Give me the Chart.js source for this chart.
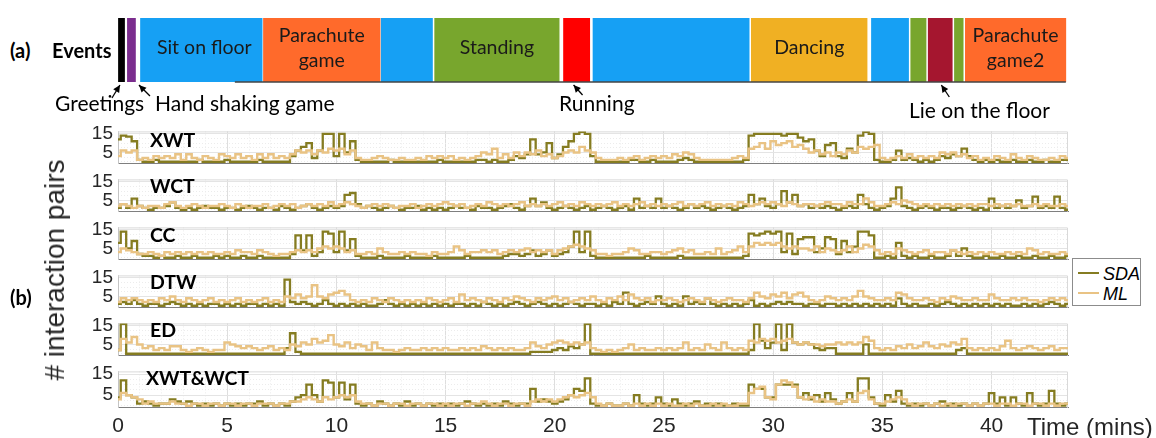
<!DOCTYPE html>
<html>
<head>
<meta charset="utf-8">
<script src="https://cdn.jsdelivr.net/npm/chart.js@4.4.1/dist/chart.umd.min.js"></script>
<style>
  body { margin: 0; width: 1156px; height: 438px; background: #fff; position: relative; overflow: hidden;
         font-family: 'Liberation Sans', Arial, sans-serif; }
  canvas { position: absolute; }
  .t { position: absolute; white-space: nowrap; color: #000; line-height: 1; }
  .cal { font-family: Lato, 'Open Sans', sans-serif; }
  .b { font-weight: bold; }
  .pl { position: absolute; font-family: Lato, sans-serif; font-weight: bold; font-size: 19.5px; line-height: 1; }
  #legend { position: absolute; left: 1072px; top: 258px; width: 67px; height: 46px; border: 1px solid #8c8c8c; background: #fff; }
  #legend .ln { position: absolute; left: 5px; width: 21px; height: 0; }
  #legend .lt { position: absolute; left: 30px; font-style: italic; font-size: 18px; line-height: 1; color: #000; }
</style>
</head>
<body>

<canvas id="events" width="1005" height="120" style="left:68px;top:0px"></canvas>
<canvas id="p0" width="1005" height="65" style="left:68px;top:115px"></canvas>
<canvas id="p1" width="1005" height="65" style="left:68px;top:163px"></canvas>
<canvas id="p2" width="1005" height="65" style="left:68px;top:211px"></canvas>
<canvas id="p3" width="1005" height="65" style="left:68px;top:259px"></canvas>
<canvas id="p4" width="1005" height="65" style="left:68px;top:307px"></canvas>
<canvas id="p5" width="1005" height="92" style="left:68px;top:355px"></canvas>

<div class="t cal b" style="left:10px;top:40px;font-size:20px">(a)</div>
<div class="t cal b" style="left:52px;top:40px;font-size:20px">Events</div>
<div class="t cal" style="left:55px;top:92px;font-size:21px">Greetings</div>
<div class="t cal" style="left:155px;top:92px;font-size:21px">Hand shaking game</div>
<div class="t cal" style="left:559px;top:92px;font-size:21px">Running</div>
<div class="t cal" style="left:909px;top:99px;font-size:21px">Lie on the floor</div>
<div class="t cal b" style="left:10px;top:287px;font-size:20px">(b)</div>

<div class="pl" style="left:150px;top:130px">XWT</div>
<div class="pl" style="left:150px;top:176px">WCT</div>
<div class="pl" style="left:150px;top:225px">CC</div>
<div class="pl" style="left:150px;top:272px">DTW</div>
<div class="pl" style="left:150px;top:320px">ED</div>
<div class="pl" style="left:146px;top:368px">XWT&amp;WCT</div>

<div class="t" style="left:55px;top:270px;font-size:28px;color:#262626;transform:translate(-50%,-50%) rotate(-90deg)"># interaction pairs</div>
<div class="t" style="left:1027px;top:415px;font-size:24px;color:#262626">Time (mins)</div>

<div id="legend">
  <div class="ln" style="top:13px;border-top:2.5px solid #857c21"></div>
  <div class="lt" style="top:6px">SDA</div>
  <div class="ln" style="top:33px;border-top:2.5px solid #e9c384"></div>
  <div class="lt" style="top:26px">ML</div>
</div>

<script>
// ── Colours ───────────────────────────────────
const SDA_COLOR = '#857c21';
const ML_COLOR  = '#e9c384';

// ── Axis setup ────────────────────────────────
const xMax        = 43.5;
const xTicks      = [0, 5, 10, 15, 20, 25, 30, 35, 40];
const yTicks      = [5, 15];
const xMinorTicks = Array.from({ length: 44 }, (_, i) => i);
const yMinorTicks = [0, 2.5, 5, 7.5, 10, 12.5, 15];

// sampling grid of the traces, one reading every quarter minute
const timeMins = Array.from({ length: 175 }, (_, i) => i * 0.25);

// ── Events (minutes) ──────────────────────────
const eventStart = [0.02, 0.43, 1.03, 6.66, 12.05, 14.5, 20.4, 21.75, 29.0, 34.5, 36.3, 37.1, 38.3, 38.8];
const eventEnd   = [0.30, 0.80, 6.60, 12.0, 14.40, 20.2, 21.6, 28.90, 34.3, 36.2, 37.0, 38.2, 38.7, 43.4];
const eventColor = ['#000000', '#7b2d8e', '#16a0f4', '#ff6a2b', '#16a0f4', '#78a62d', '#ff0000',
                    '#16a0f4', '#f0b023', '#16a0f4', '#78a62d', '#a5162f', '#78a62d', '#ff6a2b'];
const eventText  = ['', '', 'Sit on floor', 'Parachute\ngame', '', 'Standing', '',
                    '', 'Dancing', '', '', '', '', 'Parachute\ngame2'];
const arrowTips  = [0.09, 0.96, 20.86, 37.7];

// ── XWT ───────────────────────────────────────
const xwtSDA = [
  12,14,13.5,11, 1,0,0,1, 0,0,0,0, 0,0,0,1, 0,0,0,0,
  1,0,0,0, 0,0,1,0, 0,0,0,0, 3,6,8,10, 2,6,15,15,
  3,15,5,11, 1,0,0,0, 0,0,1,0, 0,0,0,0, 0,0,0,1,
  0,0,0,0, 0,0,1,1, 0,1,0,0, 1,3,2,4, 12,4,5,10,
  2,4,8,11, 15,16,15,3, 0,0,0,0, 0,0,1,1, 0,0,1,0,
  0,0,0,1, 2,1,0,0, 0,0,0,0, 0,0,0,1, 14,15,15,15,
  15,15,14,15, 15,13,11,12, 6,3,9,10, 3,2,7,5, 14,16,15,1,
  0,0,1,6, 1,2,1,0, 1,0,1,3, 2,4,3,7, 3,1,0,1,
  0,1,0,0, 1,0,0,1, 0,0,1,0, 0,1,1
];
const xwtML = [
  3,6,5,6, 1,2,1,3, 2,3,2,4, 1,4,2,1, 3,2,1,4,
  3,2,4,2, 3,1,4,2, 4,2,3,2, 4,6,5,6, 4,6,5,7,
  6,7,4,6, 2,1,1,2, 3,2,1,1, 2,1,1,2, 1,3,2,3,
  2,3,1,2, 1,2,3,5, 4,7,2,4, 2,5,3,5, 4,6,3,4,
  2,3,5,6, 5,8,6,5, 2,1,1,1, 2,1,2,3, 1,2,3,2,
  3,2,4,3, 5,4,2,1, 1,1,1,1, 1,2,3,2, 7,8,10,7,
  11,9,10,11, 8,9,7,5, 6,4,5,3, 5,4,6,5, 8,7,8,9,
  2,1,2,3, 2,4,2,3, 2,3,2,5, 4,5,3,4, 2,3,1,2,
  1,3,2,1, 4,2,1,3, 2,1,1,2, 1,3,2
];

// ── WCT ───────────────────────────────────────
const wctSDA = [
  1,3,1,6, 2,1,0,1, 1,2,4,1, 0,1,0,1, 2,1,1,0,
  1,1,0,1, 2,1,0,1, 1,0,2,1, 0,1,2,3, 1,0,1,2,
  1,2,8,9, 3,1,2,1, 0,1,2,1, 0,1,1,2, 0,1,0,1,
  0,1,2,1, 1,0,2,1, 1,0,1,2, 3,1,0,2, 6,2,4,1,
  0,1,2,1, 0,1,2,0, 1,2,1,0, 1,2,0,6, 1,2,1,6,
  1,2,1,0, 1,3,1,2, 1,0,1,2, 1,0,1,2, 8,3,6,2,
  1,3,10,4, 8,2,3,1, 2,1,2,1, 0,1,2,1, 8,3,1,0,
  1,2,6,12, 2,1,0,1, 2,1,0,1, 1,0,1,2, 1,0,1,0,
  6,1,2,1, 2,5,1,2, 7,1,2,1, 7,1,0
];
const wctML = [
  2,3,2,1, 2,1,2,2, 1,3,4,2, 1,2,3,2, 1,2,2,3,
  2,1,3,2, 1,2,2,3, 1,2,3,2, 3,1,2,3, 2,3,2,4,
  2,3,4,3, 2,1,2,3, 2,3,2,1, 2,2,3,1, 2,3,2,3,
  4,3,2,3, 1,2,3,2, 4,3,2,3, 2,3,4,2, 3,2,3,2,
  3,4,2,3, 2,4,3,2, 3,2,3,4, 2,3,2,3, 4,2,3,2,
  3,2,3,4, 2,3,2,3, 4,2,3,2, 3,2,4,3, 2,3,4,3,
  4,3,2,4, 3,2,3,3, 2,3,4,3, 3,2,4,3, 3,6,4,2,
  2,3,4,3, 5,4,3,2, 3,2,3,2, 3,2,3,2, 3,2,3,3,
  2,3,2,3, 2,3,2,2, 3,2,3,2, 2,3,2
];

// ── CC ────────────────────────────────────────
const ccSDA = [
  8,14,5,9, 2,1,1,0, 1,0,0,1, 0,0,1,0, 0,0,1,0,
  1,0,0,1, 0,0,1,0, 0,0,0,0, 2,12,4,12, 1,3,14,13,
  3,14,4,10, 1,0,0,0, 1,0,0,0, 0,1,0,0, 0,0,1,0,
  0,0,0,0, 1,0,0,0, 0,0,0,1, 2,2,1,2, 4,1,2,4,
  1,2,3,6, 14,3,14,1, 0,0,0,0, 0,0,0,0, 0,1,0,0,
  0,0,0,1, 0,0,0,0, 0,0,0,0, 0,0,0,1, 13,12,13,14,
  13,14,3,13, 2,10,11,11, 3,5,11,10, 2,9,3,6, 14,14,12,0,
  0,1,0,8, 1,0,1,0, 0,1,0,0, 1,4,1,5, 1,0,0,1,
  0,0,1,0, 0,1,0,0, 1,0,0,1, 0,0,1
];
const ccML = [
  3,5,4,3, 2,2,3,2, 1,3,2,3, 2,3,2,3, 2,3,2,2,
  3,2,4,3, 3,2,4,3, 2,1,2,2, 3,4,3,4, 3,5,6,5,
  6,5,3,4, 2,2,3,2, 5,3,2,2, 3,2,3,2, 2,1,3,2,
  2,3,6,4, 2,3,3,4, 3,4,2,3, 4,3,4,5, 3,4,3,4,
  2,4,5,6, 7,6,5,4, 2,2,1,2, 2,3,5,4, 2,2,3,3,
  2,3,4,5, 3,4,2,2, 3,2,5,2, 3,4,6,3, 6,8,7,8,
  7,8,6,5, 6,5,5,4, 6,3,5,4, 3,4,6,3, 5,7,6,4,
  2,3,2,5, 4,3,2,3, 4,2,3,3, 2,4,3,2, 3,2,3,2,
  3,2,2,3, 2,3,2,5, 4,2,3,2, 2,3,2
];

// ── DTW ───────────────────────────────────────
const dtwSDA = [
  1,2,1,3, 1,0,1,1, 0,1,2,1, 0,1,0,1, 0,1,1,0,
  1,0,1,0, 1,1,0,1, 0,1,0,14, 2,1,2,1, 0,1,3,1,
  0,1,0,1, 0,1,0,0, 1,3,1,0, 1,0,1,0, 1,0,1,0,
  1,0,1,1, 0,1,0,2, 1,0,1,0, 1,2,1,0, 1,2,1,0,
  1,0,1,2, 1,0,1,1, 0,1,0,2, 1,7,1,0, 1,2,1,5,
  1,0,1,0, 5,1,2,1, 4,1,0,1, 0,1,0,1, 3,0,1,0,
  1,2,1,2, 1,1,0,1, 1,0,1,1, 0,1,0,1, 0,1,0,1,
  0,1,0,4, 1,0,1,0, 0,1,0,1, 2,1,0,1, 0,1,0,1,
  0,1,0,1, 0,0,1,0, 1,0,1,2, 1,0,1
];
const dtwML = [
  2,4,3,4, 3,2,3,2, 4,3,5,3, 2,4,3,2, 3,4,2,3,
  2,3,4,2, 3,2,3,4, 2,3,2,5, 4,6,4,5, 11,5,4,6,
  7,8,6,3, 2,3,2,4, 3,2,4,3, 2,3,2,3, 2,4,3,2,
  3,4,2,6, 3,4,3,2, 4,3,2,4, 3,5,4,3, 2,4,3,4,
  5,3,4,2, 3,4,3,5, 3,2,4,3, 5,3,6,4, 3,4,2,3,
  3,4,3,2, 3,4,3,2, 4,3,2,3, 4,3,3,2, 4,7,5,4,
  6,5,7,4, 6,7,5,3, 2,3,5,4, 3,4,3,5, 8,5,4,3,
  3,4,3,7, 6,4,3,3, 4,3,2,4, 3,5,4,3, 3,4,3,3,
  6,4,3,3, 4,3,4,3, 3,2,3,4, 3,4,3
];

// ── ED ────────────────────────────────────────
const edSDA = [
  2,16,0,0, 0,0,0,0, 0,0,0,0, 0,0,0,0, 0,0,0,0,
  0,0,0,0, 0,0,0,0, 0,0,0,3, 11,1,0,0, 0,0,0,0,
  0,0,0,0, 0,0,0,0, 0,0,0,0, 0,0,0,0, 0,0,0,0,
  0,0,0,0, 0,0,0,0, 0,0,0,0, 0,0,0,0, 1,1,1,1,
  2,3,2,4, 3,5,16,0, 0,0,0,0, 0,0,0,0, 0,0,0,0,
  0,0,0,0, 0,0,0,0, 0,0,0,0, 0,0,0,0, 2,16,7,3,
  6,16,2,16, 6,5,6,5, 3,2,3,3, 0,0,0,0, 0,5,0,0,
  0,0,0,0, 0,0,0,0, 0,0,0,0, 0,0,2,3, 0,0,0,0,
  0,0,0,0, 0,0,0,0, 0,0,0,0, 0,0,0
];
const edML = [
  2,8,6,9, 5,3,4,2, 3,2,4,4, 2,1,2,3, 2,1,2,2,
  6,5,4,3, 4,3,2,3, 4,2,3,2, 5,4,6,5, 8,6,7,10,
  5,4,6,3, 5,4,2,6, 3,2,2,1, 2,3,2,2, 3,2,3,2,
  3,2,2,3, 2,3,2,4, 3,2,3,2, 3,2,2,3, 6,4,3,5,
  6,7,6,5, 6,5,6,3, 2,1,2,1, 2,3,5,2, 3,2,2,3,
  2,3,2,3, 6,2,3,2, 5,3,2,6, 3,2,3,2, 7,6,8,7,
  8,6,7,8, 6,5,6,5, 5,4,5,5, 6,5,6,5, 6,9,7,3,
  2,3,2,4, 3,5,3,4, 6,4,3,5, 4,6,5,8, 3,2,3,2,
  3,2,4,7, 3,2,3,4, 3,2,3,4, 2,3,3
];

// ── XWT&WCT ───────────────────────────────────
const xwSDA = [
  4,12,5,4, 1,2,1,0, 1,1,3,2, 1,2,1,0, 1,0,1,0,
  1,0,1,0, 1,1,2,0, 1,0,1,0, 2,4,5,10, 5,2,12,11,
  4,11,3,10, 1,0,1,0, 2,1,0,1, 0,2,0,1, 0,1,0,1,
  0,1,0,1, 2,1,0,1, 0,1,0,2, 1,0,1,1, 8,2,3,2,
  1,2,3,5, 8,7,13,1, 0,0,1,0, 0,1,0,5, 1,0,1,4,
  1,0,3,1, 0,1,2,0, 1,0,1,0, 0,1,0,0, 10,8,8,4,
  4,10,10,10, 10,4,6,3, 5,2,6,3, 1,2,6,2, 13,13,4,1,
  0,5,2,7, 1,0,1,0, 1,0,1,2, 0,1,0,1, 0,1,0,1,
  6,1,4,0, 4,1,0,6, 1,0,1,7, 1,0,1
];
const xwML = [
  3,6,5,4, 3,1,2,1, 1,1,2,1, 1,0,1,1, 0,1,1,0,
  1,1,0,1, 1,0,1,1, 1,0,1,1, 2,2,3,4, 3,2,4,3,
  4,5,4,5, 2,1,1,0, 1,1,0,1, 1,0,1,1, 0,1,1,0,
  1,0,1,1, 0,1,1,2, 1,0,1,1, 0,1,1,0, 2,3,2,3,
  2,3,4,5, 4,5,6,4, 1,0,1,0, 0,1,0,1, 0,1,0,1,
  0,1,0,0, 1,0,1,0, 0,1,0,1, 0,0,1,1, 6,8,9,4,
  3,10,12,11, 9,4,3,4, 2,3,2,2, 1,2,3,2, 6,7,3,1,
  1,2,3,4, 3,1,0,1, 1,0,1,0, 1,0,1,1, 0,1,0,1,
  1,0,1,1, 0,1,1,0, 1,1,0,1, 0,1,1
];

const panels = [
  ['p0', xwtSDA, xwtML],
  ['p1', wctSDA, wctML],
  ['p2', ccSDA,  ccML],
  ['p3', dtwSDA, dtwML],
  ['p4', edSDA,  edML],
  ['p5', xwSDA,  xwML],
];

// light box round each panel (top + right edges)
const frame = {
  id: 'frame',
  beforeDatasetsDraw(chart) {
    const a = chart.chartArea, c = chart.ctx;
    c.save();
    c.strokeStyle = '#d9d9d9';
    c.lineWidth = 1;
    c.beginPath();
    c.moveTo(a.left, a.top + 0.5);
    c.lineTo(a.right - 0.5, a.top + 0.5);
    c.lineTo(a.right - 0.5, a.bottom);
    c.stroke();
    c.restore();
  }
};

// ── One time-series panel ─────────────────────
function buildPanel(id, sda, ml, isLast) {
  const tickFont = { family: "'Liberation Sans', Arial, sans-serif", size: 19 };
  return new Chart(document.getElementById(id).getContext('2d'), {
    type: 'line',
    data: {
      labels: timeMins,
      datasets: [
        { label: 'ML',  data: ml,  borderColor: ML_COLOR,  borderWidth: 2.4,
          pointRadius: 0, stepped: 'middle', fill: false },
        { label: 'SDA', data: sda, borderColor: SDA_COLOR, borderWidth: 2.3,
          pointRadius: 0, stepped: 'middle', fill: false },
      ]
    },
    options: {
      responsive: false,
      animation:  false,
      layout:     { padding: { top: 12, bottom: isLast ? 2 : 12, left: 0, right: 5 } },
      plugins:    { legend: { display: false }, tooltip: { enabled: false } },
      scales: {
        xm: {
          type: 'linear', position: 'bottom', min: 0, max: xMax,
          afterBuildTicks: s => { s.ticks = xMinorTicks.map(v => ({ value: v })); },
          ticks:  { display: false },
          grid:   { color: '#ececec', drawTicks: false },
          border: { display: false, dash: [1, 2] }
        },
        x: {
          type: 'linear', position: 'bottom', min: 0, max: xMax,
          afterBuildTicks: s => { s.ticks = xTicks.map(v => ({ value: v })); },
          ticks:  { display: isLast, color: '#262626', padding: 6,
                    font: { family: "'Liberation Sans', Arial, sans-serif", size: 21 } },
          grid:   { color: '#dedede', drawTicks: false },
          border: { color: '#7f7f7f', width: 1 }
        },
        ym: {
          type: 'linear', position: 'left', min: -1, max: 16.3,
          afterBuildTicks: s => { s.ticks = yMinorTicks.map(v => ({ value: v })); },
          ticks:  { display: false },
          grid:   { color: '#ececec', drawTicks: false },
          border: { display: false, dash: [1, 2] }
        },
        y: {
          type: 'linear', position: 'left', min: -1, max: 16.3,
          afterBuildTicks: s => { s.ticks = yTicks.map(v => ({ value: v })); },
          afterFit: s => { s.width = 50; },
          ticks:  { color: '#262626', padding: 5, font: tickFont },
          grid:   { color: '#e4e4e4', drawTicks: false },
          border: { color: '#c4c4c4', width: 1 }
        }
      }
    },
    plugins: [frame]
  });
}

panels.forEach((p, i) => buildPanel(p[0], p[1], p[2], i === panels.length - 1));

// ── Events bar ────────────────────────────────
const eventDecor = {
  id: 'eventDecor',
  afterDatasetsDraw(chart) {
    const c = chart.ctx, xs = chart.scales.x, a = chart.chartArea;
    c.save();
    // baseline under the bar
    c.strokeStyle = '#444';
    c.lineWidth = 1.5;
    c.beginPath();
    c.moveTo(xs.getPixelForValue(5.35), a.bottom);
    c.lineTo(xs.getPixelForValue(eventEnd[eventEnd.length - 1]), a.bottom);
    c.stroke();
    // labels inside segments
    c.fillStyle = '#1a1a1a';
    c.font = "19.5px Lato, 'Open Sans', sans-serif";
    c.textAlign = 'center';
    c.textBaseline = 'middle';
    eventText.forEach((txt, i) => {
      if (!txt) return;
      const cx = (xs.getPixelForValue(eventStart[i]) + xs.getPixelForValue(eventEnd[i])) / 2;
      const lines = txt.split('\n');
      const cy = (a.top + a.bottom) / 2 - 2;
      lines.forEach((ln, k) => c.fillText(ln, cx + (i === 2 ? 3 : 0), cy + (k - (lines.length - 1) / 2) * 25));
    });
    // arrows from the annotation labels
    const tails = [[-8, 13], [11, 11], [9, 10], [8, 12]];
    c.strokeStyle = '#000';
    c.fillStyle = '#000';
    c.lineWidth = 1.3;
    arrowTips.forEach((t, i) => {
      const tx = xs.getPixelForValue(t), ty = a.bottom + 3;
      const sx = tx + tails[i][0], sy = ty + tails[i][1];
      const ang = Math.atan2(ty - sy, tx - sx);
      c.beginPath(); c.moveTo(sx, sy); c.lineTo(tx, ty); c.stroke();
      c.beginPath();
      c.moveTo(tx, ty);
      c.lineTo(tx - 8 * Math.cos(ang - 0.45), ty - 8 * Math.sin(ang - 0.45));
      c.lineTo(tx - 8 * Math.cos(ang + 0.45), ty - 8 * Math.sin(ang + 0.45));
      c.closePath(); c.fill();
    });
    c.restore();
  }
};

new Chart(document.getElementById('events').getContext('2d'), {
  type: 'bar',
  data: {
    labels: ['Events'],
    datasets: eventStart.map((s, i) => ({
      data: [[s, eventEnd[i]]],
      backgroundColor: eventColor[i],
      borderWidth: 0,
      barPercentage: 1,
      categoryPercentage: 1,
      grouped: false
    }))
  },
  options: {
    indexAxis:  'y',
    responsive: false,
    animation:  false,
    layout:     { padding: { top: 18, bottom: 38, left: 50, right: 5 } },
    plugins:    { legend: { display: false }, tooltip: { enabled: false } },
    scales: {
      x: { type: 'linear', min: 0, max: xMax, display: false },
      y: { display: false }
    }
  },
  plugins: [eventDecor]
});
</script>
</body>
</html>
